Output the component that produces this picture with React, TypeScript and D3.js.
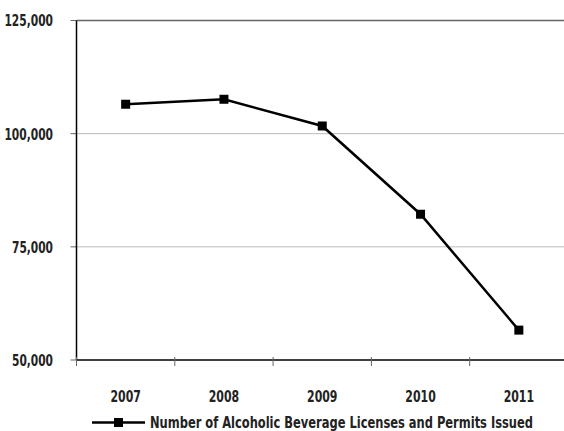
import React from "react";
import * as d3 from "d3";

const years = ["2007", "2008", "2009", "2010", "2011"];
const licenses = [106500, 107600, 101700, 82200, 56600];
const yTicks = [50000, 75000, 100000, 125000];
const seriesName = "Number of Alcoholic Beverage Licenses and Permits Issued";

const W = 564, H = 431;
const FONT = "'DejaVu Sans', sans-serif";

const numWidth = (s: string) => {
  let w = 0;
  for (const c of s) w += c === "," ? 3 : 7.6;
  return w;
};

export default function App() {
  const left = 76.5, right = 568, top = 20.5, bottom = 360;
  const x = d3.scaleBand<string>().domain(years).range([left, right]);
  const y = d3.scaleLinear().domain([50000, 125000]).range([bottom, top]);
  const line = d3.line<number>()
    .x((_, i) => (x(years[i]) as number) + x.bandwidth() / 2)
    .y((d) => y(d));
  const fmt = d3.format(",");
  const boundaries = years.map((yr) => x(yr) as number);
  return (
    <svg width={W} height={H} style={{ position: "absolute", left: 0, top: 0 }} fontFamily={FONT}
      fontStretch="condensed">
      <rect width={W} height={H} fill="#fff" />
      {yTicks.map((t) => (
        <g key={t}>
          {t !== 50000 && (
            <line x1={left} x2={W} y1={y(t)} y2={y(t)}
              stroke={t === 125000 ? "#666" : "#bbb"} strokeWidth={t === 125000 ? 1.5 : 1} />
          )}
          <line x1={left - 6} x2={left} y1={y(t)} y2={y(t)} stroke="#666" strokeWidth={1} />
          <text x={53} y={y(t)} dy="0.36em" textAnchor="end" fontSize={16.5} fontWeight="bold" fill="#222"
            textLength={numWidth(fmt(t))} lengthAdjust="spacingAndGlyphs">
            {fmt(t)}
          </text>
        </g>
      ))}
      <line x1={left} x2={left} y1={top} y2={bottom} stroke="#000" strokeWidth={1.5} />
      <line x1={left} x2={W} y1={bottom} y2={bottom} stroke="#000" strokeWidth={1.5} />
      {boundaries.map((b, i) => (
        <line key={i} x1={b} x2={b} y1={bottom - 3} y2={bottom + 6} stroke="#666" strokeWidth={1} />
      ))}
      {years.map((yr) => (
        <text key={yr} x={(x(yr) as number) + x.bandwidth() / 2 - numWidth(yr) / 2} y={396} dy="0.36em"
          fontSize={16.5} fontWeight="bold" fill="#222"
          textLength={numWidth(yr)} lengthAdjust="spacingAndGlyphs">{yr}</text>
      ))}
      <path d={line(licenses) || ""} fill="none" stroke="#000" strokeWidth={2.5} />
      {licenses.map((v, i) => (
        <rect key={i} x={(x(years[i]) as number) + x.bandwidth() / 2 - 4.5} y={y(v) - 4.5}
          width={9} height={9} fill="#000" />
      ))}
      <line x1={92} x2={145} y1={422.5} y2={422.5} stroke="#000" strokeWidth={2.5} />
      <rect x={114} y={418} width={9} height={9} fill="#000" />
      <text x={150} y={422} dy="0.36em" fontSize={16.5} fontWeight="bold" fill="#222"
        textLength={383} lengthAdjust="spacingAndGlyphs">{seriesName}</text>
    </svg>
  );
}
